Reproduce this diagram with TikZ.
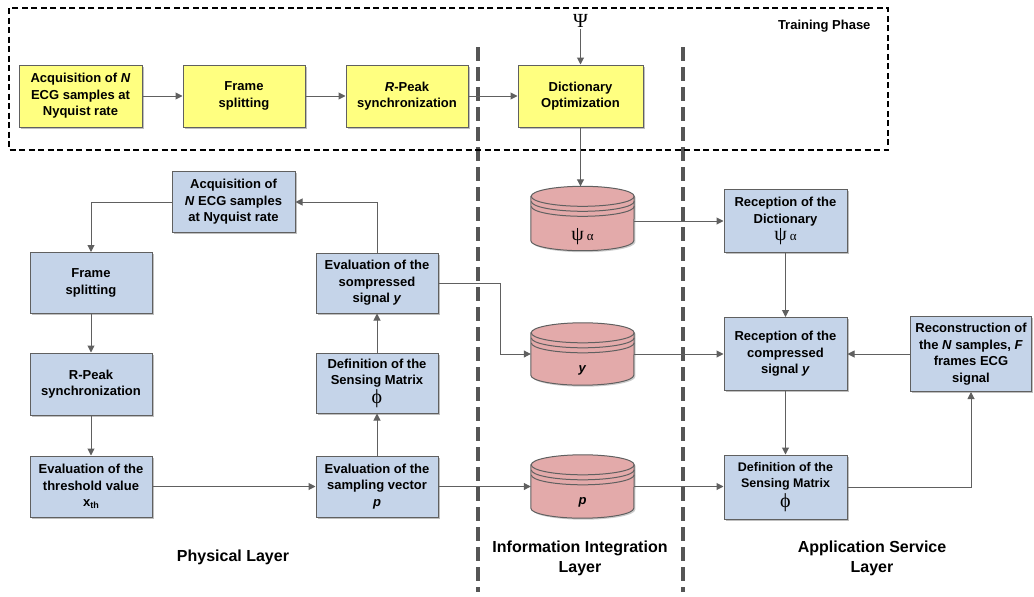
\documentclass[tikz,border=0pt]{standalone}
\usepackage{fontspec}
\setmainfont{Liberation Sans}
\newfontfamily\gr{Liberation Serif}
\usetikzlibrary{arrows.meta,shadows,calc}
\definecolor{yel}{HTML}{FFFF80}
\definecolor{blu}{HTML}{C5D4E9}
\definecolor{pnk}{HTML}{E3AAAA}
\definecolor{lin}{HTML}{606060}
\definecolor{sep}{HTML}{555555}
\newcommand\grk[1]{{\normalfont\gr #1}}
\newcommand\dbdraw[1]{%
  \draw[draw=lin,line width=1pt,fill=pnk,drop shadow={shadow xshift=1.5pt,shadow yshift=-1.5pt,fill=black,opacity=0.2}]
    ([yshift=-10pt]#1.north west) -- ([yshift=10pt]#1.south west)
    arc[start angle=180,end angle=360,x radius=51.5pt,y radius=10pt]
    -- ([yshift=-10pt]#1.north east)
    arc[start angle=0,end angle=180,x radius=51.5pt,y radius=10pt] -- cycle;
  \draw[draw=lin,line width=1pt] ([yshift=-10pt]#1.north east) arc[start angle=0,end angle=-180,x radius=51.5pt,y radius=10pt];
  \draw[draw=lin,line width=1pt] ([yshift=-15pt]#1.north east) arc[start angle=0,end angle=-180,x radius=51.5pt,y radius=10pt];
  \draw[draw=lin,line width=1pt] ([yshift=-20pt]#1.north east) arc[start angle=0,end angle=-180,x radius=51.5pt,y radius=10pt];
}
\begin{document}
\begin{tikzpicture}[x=1pt,y=-1pt,
  box/.style={draw=lin, line width=1pt, align=center, inner sep=1pt,
    font=\fontsize{13}{16.5}\selectfont\bfseries,
    drop shadow={shadow xshift=1.5pt,shadow yshift=-1.5pt,fill=black,opacity=0.25}},
  ybox/.style={box, fill=yel, minimum width=123pt, minimum height=62pt},
  bbox/.style={box, fill=blu, minimum width=123pt, minimum height=61pt},
  arr/.style={draw=lin, line width=1pt, -{Triangle[length=7pt,width=7pt]}},
  cylnode/.style={minimum width=103pt, minimum height=64pt, inner sep=0pt},
  cyltext/.style={font=\fontsize{13}{16}\selectfont\bfseries, inner sep=1pt},
  layer/.style={font=\fontsize{16}{20}\selectfont\bfseries, align=center},
  sepline/.style={draw=sep, line width=4.5pt, dash pattern=on 14pt off 6pt},
  trainbox/.style={draw=black, line width=1.5pt, dash pattern=on 6pt off 3.5pt},
]
\useasboundingbox (0,0) rectangle (1034,597);

% layer separators
\coordinate (s1t) at (478,47); \coordinate (s1b) at (478,592);
\coordinate (s2t) at (683,47); \coordinate (s2b) at (683,592);
\draw[sepline] (s1t) -- (s1b);
\draw[sepline] (s2t) -- (s2b);

% training phase
\coordinate (tA) at (9,8); \coordinate (tB) at (888,150);
\draw[trainbox] (tA) rectangle (tB);
\node[font=\fontsize{13}{16}\selectfont\bfseries, anchor=east] (tp) at (874,26) {Training Phase};
\node[font=\fontsize{20}{20}\selectfont, inner sep=1pt] (psi) at (580.5,21) {\grk{Ψ}};

\node[ybox] (A1) at (80.5,96) {Acquisition of \textit{N}\\ECG samples at\\Nyquist rate};
\node[ybox, minimum width=122pt] (A2) at (244,96) {Frame\\splitting};
\node[ybox, minimum width=122pt] (A3) at (407,96) {\textit{R}-Peak\\synchronization};
\node[ybox, minimum width=125pt] (A4) at (580.5,96) {Dictionary\\Optimization};

% physical layer
\node[bbox] (B1) at (233.5,202) {Acquisition of\\\textit{N} ECG samples\\at Nyquist rate};
\node[bbox, minimum width=122pt] (B2) at (91,283) {Frame\\splitting};
\node[bbox, minimum width=122pt, minimum height=62pt] (B3) at (91,384) {R-Peak\\synchronization};
\node[bbox, minimum width=122pt] (B4) at (91,486.5) {Evaluation of the\\threshold value\\x\raisebox{-2pt}{\fontsize{9}{9}\selectfont th}};
\node[bbox, minimum width=122pt, minimum height=60pt] (B5) at (377,283) {Evaluation of the\\sompressed\\signal \textit{y}};
\node[bbox, minimum width=122pt, minimum height=60pt] (B6) at (377,383) {Definition of the\\Sensing Matrix\\[1pt]\grk{\fontsize{20}{18}\selectfont ϕ}};
\node[bbox, minimum width=122pt] (B7) at (377,486.5) {Evaluation of the\\sampling vector\\\textit{p}};

% information integration layer
\node[cylnode] (C1) at (582.5,218.5) {};
\node[cylnode, minimum height=62pt] (C2) at (582.5,354) {};
\node[cylnode, minimum height=63pt] (C3) at (582.5,486.5) {};
\dbdraw{C1}\dbdraw{C2}\dbdraw{C3}
\node[cyltext] (C1t) at ([yshift=-18pt]C1.center) {\grk{\fontsize{20}{20}\selectfont ψ\hspace{3pt}{\fontsize{13}{13}\selectfont α}}};
\node[cyltext] (C2t) at ([yshift=-16pt]C2.center) {\textit{y}};
\node[cyltext] (C3t) at ([yshift=-16pt]C3.center) {\textit{p}};

% application service layer
\node[bbox, minimum height=63pt] (R1) at (785.5,221) {Reception of the\\Dictionary\\[1pt]\grk{\fontsize{20}{18}\selectfont ψ\hspace{3pt}{\fontsize{13}{13}\selectfont α}}};
\node[bbox, minimum height=73pt] (R2) at (785.5,354) {Reception of the\\compressed\\signal \textit{y}};
\node[bbox, minimum width=121pt, minimum height=75pt] (R3) at (971,354) {Reconstruction of\\the \textit{N} samples, \textit{F}\\frames ECG\\signal};
\node[bbox, minimum height=64pt, font=\fontsize{12.5}{16}\selectfont\bfseries] (R4) at (785.5,487) {Definition of the\\Sensing Matrix\\[2pt]\grk{\fontsize{20}{18}\selectfont ϕ}};

% layer titles
\node[layer] (L1) at (233,557) {Physical Layer};
\node[layer] (L2) at (580,558) {Information Integration\\Layer};
\node[layer] (L3) at (872,558) {Application Service\\Layer};

% connectors
\draw[arr] (A1) -- (A2);
\draw[arr] (A2) -- (A3);
\draw[arr] (A3) -- (A4);
\draw[arr] (psi) -- (A4);
\draw[arr] (A4.south) -- (A4.south |- C1.north);
\draw[arr] (C1.east |- R1.west) -- (R1.west);
\draw[arr] (B1.west) -| (B2.north);
\draw[arr] (B2) -- (B3);
\draw[arr] (B3) -- (B4);
\draw[arr] (B4) -- (B7);
\draw[arr] (B7) -- (B6);
\draw[arr] (B6) -- (B5);
\draw[arr] (B5.north) |- (B1.east);
\draw[arr] (B5.east) -- ++(62,0) |- (C2.west);
\draw[arr] (B7.east) -- (B7.east -| C3.west);
\draw[arr] (C2.east) -- (C2.east -| R2.west);
\draw[arr] (C3.east) -- (C3.east -| R4.west);
\draw[arr] (R1) -- (R2);
\draw[arr] (R2) -- (R4);
\draw[arr] (R4.east) -| (R3.south);
\draw[arr] (R3.west) -- (R2.east);
\end{tikzpicture}
\end{document}
